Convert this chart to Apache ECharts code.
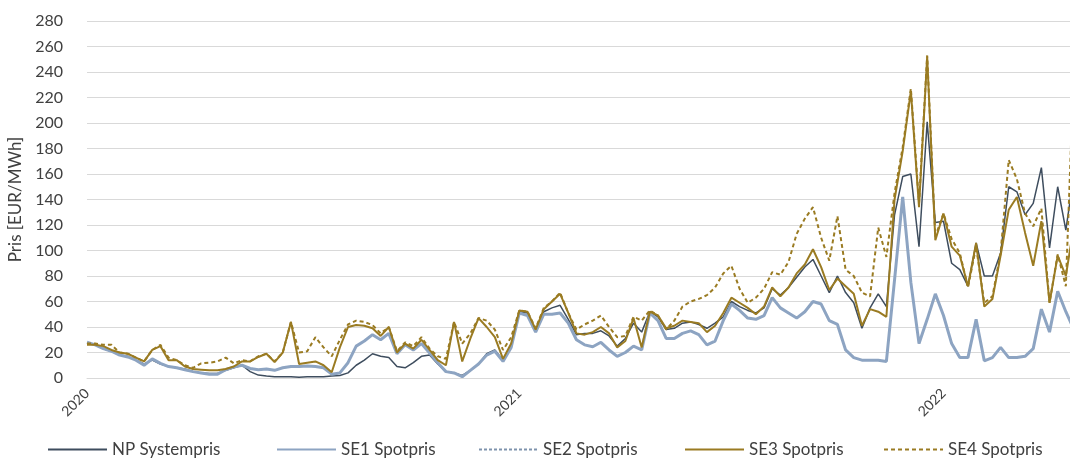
<!DOCTYPE html>
<html>
<head>
<meta charset="utf-8">
<script src="https://cdn.jsdelivr.net/npm/echarts@6/dist/echarts.min.js"></script>
<style>
  html, body { margin: 0; padding: 0; background: #ffffff; }
  #chart { width: 1070px; height: 459px; }
</style>
</head>
<body>
<div id="chart"></div>
<script>
// Weekly spot prices (EUR/MWh), week 1 of 2020 through week 17 of 2022
const years = [2020, 2021, 2022];
const weeksInYear = [53, 52, 17];

const seriesNames = ['NP Systempris', 'SE1 Spotpris', 'SE2 Spotpris', 'SE3 Spotpris', 'SE4 Spotpris'];

const npSystempris = [
  27, 26, 23, 21, 18, 17, 14, 11, 14, 11, 9, 8, 7, 5, 4, 3.5, 3.5, 6, 8, 10,
  5, 2.3, 1.6, 1, 1, 1, 0.6, 1, 1, 1, 1.5, 2, 4, 10, 14, 19, 17, 16, 9, 8,
  12, 17, 18, 11, 5, 4, 2, 6, 11, 19, 22, 14, 24, 52, 51, 37, 52, 55, 57, 46,
  34, 35, 35, 37, 33, 25, 31, 43, 36, 52, 48, 38, 39, 43, 44, 42, 39, 43, 48, 60,
  56, 53, 51, 55, 70, 65, 71, 79, 87, 93, 80, 67, 80, 67, 59, 39, 55, 66, 56, 128,
  158, 160, 103, 201, 122, 123, 90, 85, 72, 106, 80, 80, 98, 150, 146, 128, 137, 165, 102, 150,
  116, 160
];
const se1Spotpris = [
  28, 26, 23, 21, 18, 16.5, 14, 10, 15, 11.5, 9, 8, 6.5, 5, 4, 3, 3, 6.5, 8.5, 10,
  7.5, 6.5, 7, 6, 8, 9, 9, 9.5, 9, 8, 3, 4, 12, 25, 29, 34, 30, 35, 19, 26,
  22, 27, 19.5, 12, 5, 4, 1, 6, 11, 18, 21, 13, 24, 51, 49, 36, 50, 50, 51, 43,
  30, 26, 24.5, 28, 22, 17, 20, 25, 22, 51, 45, 31, 31, 35, 37, 34, 26, 29, 45, 58,
  53, 47, 46, 49, 63, 55, 51, 47, 52, 60, 58, 45, 42, 22, 16, 14, 14, 14, 13, 77,
  142, 75, 27, 46, 66, 49, 27, 16, 16, 46, 13.5, 16, 24, 16, 16, 17, 23, 54, 36, 68,
  52, 38
];
const se2Spotpris = [
  28, 26, 23, 21, 18, 16.5, 14, 10, 15, 11.5, 9, 8, 6.5, 5, 4, 3, 3, 6.5, 8.5, 10,
  7.5, 6.5, 7, 6, 8, 9, 9, 9.5, 9, 8, 3, 4, 12, 25, 29, 34, 30, 35, 19, 26,
  22, 27, 19.5, 12, 5, 4, 1, 6, 11, 18, 21, 13, 24, 51, 49, 36, 50, 50, 51, 43,
  30, 26, 24.5, 28, 22, 17, 20, 25, 22, 51, 45, 31, 31, 35, 37, 34, 26, 29, 45, 58,
  53, 47, 46, 49, 63, 55, 51, 47, 52, 60, 58, 45, 42, 22, 16, 14, 14, 14, 13, 77,
  142, 75, 27, 46, 66, 49, 27, 16, 16, 46, 13.5, 16, 24, 16, 16, 17, 23, 54, 36, 68,
  52, 38
];
const se3Spotpris = [
  26, 26, 25, 22, 20, 19, 16, 13, 22, 25, 14, 14, 9, 7, 6.5, 6, 6, 7, 9, 13,
  13, 16.5, 19, 12.5, 20, 44, 11, 12, 13, 10, 4.5, 24, 40, 41.5, 41, 39, 33, 40, 20, 27,
  23, 30, 22, 14, 10, 44, 13, 31, 47, 40, 32, 15, 27, 53, 52, 38, 54, 60, 66, 51,
  35, 34, 36, 40, 35, 24, 29, 47, 24, 52, 49, 39, 41, 45, 44, 43, 36, 41, 51, 63,
  59, 55, 50, 56, 71, 64, 71, 82, 89, 101, 87, 69, 78, 72, 66, 41, 54, 52, 48, 140,
  178, 225, 134, 252, 108, 129, 103, 96, 72, 106, 56, 62, 96, 132, 142, 114, 88, 123, 59, 96,
  80, 120
];
const se4Spotpris = [
  27, 27, 26, 26, 20, 19, 16, 13, 22, 26, 16, 14, 10, 8, 11.5, 12, 13, 16, 11.5, 14,
  13, 17, 19, 13, 20, 44, 20, 21, 32, 24, 17, 30, 42, 45, 44, 41.5, 35, 40, 21, 28,
  25, 32, 23, 17, 15, 44, 27, 35, 47, 45, 38, 22, 32, 53, 52, 39, 55, 60, 67, 51,
  38, 42, 45, 49, 40, 32, 33, 48, 45, 53, 49, 38, 45, 56, 60, 62, 65, 71, 82, 88,
  70, 59, 63, 70, 83, 81, 91, 113, 125, 134, 110, 92, 127, 85, 80, 67, 64, 118, 95, 145,
  181, 227, 137, 253, 111, 129, 109, 98, 71, 103, 59, 64, 98, 171, 156, 129, 119, 133, 59, 97,
  72, 247
];

// Week categories such as "2020-01"; only week 1 of each year gets a label
const categories = [];
years.forEach((y, i) => {
  for (let w = 1; w <= weeksInYear[i]; w++) {
    categories.push(y + '-' + String(w).padStart(2, '0'));
  }
});

const FONT = 'Lato, "Open Sans", sans-serif';
const TEXT = '#404040';
const GOLD = '#9a7b22';

function lineSeries(name, data, color, width, dash, z) {
  return {
    name: name,
    type: 'line',
    data: data,
    symbol: 'none',
    smooth: false,
    z: z,
    lineStyle: { color: color, width: width, type: dash || 'solid' },
    itemStyle: { color: color },
    emphasis: { disabled: true }
  };
}

// One legend block per series so each entry sits at its own x position
const legendLeft = [42, 271, 473, 679, 878];
const legends = seriesNames.map((name, i) => ({
  data: [name],
  left: legendLeft[i],
  top: 436,
  itemWidth: 59,
  itemHeight: 12,
  itemGap: 0,
  itemStyle: { opacity: 0 },
  textStyle: { fontFamily: FONT, fontSize: 17, color: TEXT }
}));

const chart = echarts.init(document.getElementById('chart'), null, { renderer: 'canvas' });
chart.setOption({
  animation: false,
  backgroundColor: '#ffffff',
  textStyle: { fontFamily: FONT, color: TEXT },
  // the last week runs a few pixels past the right edge of the canvas
  grid: { left: 87, top: 21, width: 987, height: 357, outerBoundsMode: 'none' },
  legend: legends,
  xAxis: {
    type: 'category',
    data: categories,
    boundaryGap: false,
    axisLine: { show: true, lineStyle: { color: '#d9d9d9', width: 1 } },
    axisTick: { show: false },
    splitLine: { show: false },
    axisLabel: {
      rotate: 45,
      interval: (index, value) => value.endsWith('-01'),
      formatter: value => value.slice(0, 4),
      fontFamily: FONT,
      fontSize: 14,
      color: TEXT,
      margin: 13
    }
  },
  yAxis: {
    type: 'value',
    min: 0,
    max: 280,
    interval: 20,
    name: 'Pris [EUR/MWh]',
    nameLocation: 'middle',
    nameGap: 62,
    nameTextStyle: { fontFamily: FONT, fontSize: 17, color: TEXT },
    axisLine: { show: false },
    axisTick: { show: false },
    axisLabel: { fontFamily: FONT, fontSize: 16, color: TEXT, margin: 24 },
    splitLine: { lineStyle: { color: '#d9d9d9', width: 1 } }
  },
  series: [
    lineSeries(seriesNames[0], npSystempris, '#3e4d5e', 1.5, null, 2),
    lineSeries(seriesNames[1], se1Spotpris, '#8da4c2', 3, null, 4),
    lineSeries(seriesNames[2], se2Spotpris, '#7f93ad', 1, [3, 2], 3),
    lineSeries(seriesNames[3], se3Spotpris, GOLD, 2, null, 5),
    lineSeries(seriesNames[4], se4Spotpris, GOLD, 2, [4, 3], 6)
  ]
});
</script>
</body>
</html>
